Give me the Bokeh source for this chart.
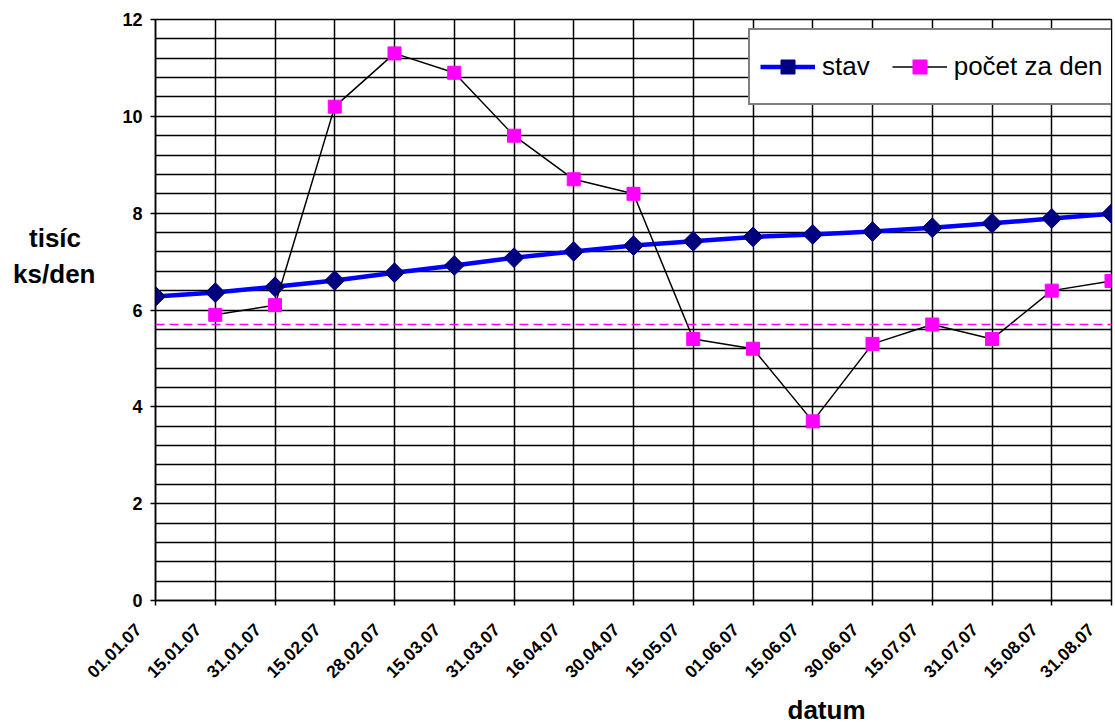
import numpy as np
from bokeh.plotting import figure
from bokeh.models import FixedTicker, Range1d, Legend, LegendItem, Span, Title
from bokeh.embed import file_html
from bokeh.resources import INLINE

dates = ["01.01.07", "15.01.07", "31.01.07", "15.02.07", "28.02.07", "15.03.07",
         "31.03.07", "16.04.07", "30.04.07", "15.05.07", "01.06.07", "15.06.07",
         "30.06.07", "15.07.07", "31.07.07", "15.08.07", "31.08.07"]
stav = [6.28, 6.36, 6.48, 6.61, 6.77, 6.92, 7.08, 7.21, 7.33, 7.42, 7.51, 7.56,
        7.62, 7.70, 7.79, 7.89, 7.99]
pocet = [np.nan, 5.9, 6.1, 10.2, 11.3, 10.9, 9.6, 8.7, 8.4, 5.4, 5.2, 3.7,
         5.3, 5.7, 5.4, 6.4, 6.6]
target = 5.7
y_ticks = [0, 2, 4, 6, 8, 10, 12]
y_grid = [round(i * 0.4, 1) for i in range(31)]

FONT = "Liberation Sans"
NB = "\u00a0"
x = list(range(len(dates)))

p = figure(width=1115, height=724, output_backend="svg", toolbar_location=None,
           x_range=Range1d(0, len(dates) - 1), y_range=Range1d(0, 12),
           min_border_left=155, min_border_right=4, min_border_top=19,
           min_border_bottom=123)
p.background_fill_color = "white"
p.border_fill_color = "white"
p.outline_line_color = "black"
p.outline_line_width = 1.5

# grids
p.xgrid.ticker = FixedTicker(ticks=x)
p.ygrid.ticker = FixedTicker(ticks=y_grid)
for g in (p.xgrid, p.ygrid):
    g.grid_line_color = "black"
    g.grid_line_width = 1.5
    g.grid_line_alpha = 1.0

# axes
p.xaxis.ticker = FixedTicker(ticks=x)
p.xaxis.major_label_overrides = {i: d + NB * 5 for i, d in enumerate(dates)}
p.xaxis.major_label_orientation = np.pi / 4
p.yaxis.ticker = FixedTicker(ticks=y_ticks)
for ax in (p.xaxis, p.yaxis):
    ax.axis_line_color = "black"
    ax.axis_line_width = 1.5
    ax.major_tick_line_color = "black"
    ax.major_tick_line_width = 1.5
    ax.major_tick_out = 5
    ax.major_tick_in = 0
    ax.minor_tick_line_color = None
    ax.major_label_text_font = FONT
    ax.major_label_text_font_style = "bold"
    ax.major_label_text_color = "black"
p.xaxis.major_label_text_font_size = "17.5px"
p.yaxis.major_label_text_font_size = "18px"
p.xaxis.major_label_standoff = 4
p.yaxis.major_label_standoff = 8

# y axis title (horizontal, two lines)
p.yaxis.axis_label = "tisíc" + NB * 2 + "\nks/den\n" + NB + "\n" + NB + "\n" + NB
p.yaxis.axis_label_orientation = "horizontal"
p.yaxis.axis_label_text_font = FONT
p.yaxis.axis_label_text_font_style = "bold"
p.yaxis.axis_label_text_font_size = "26px"
p.yaxis.axis_label_text_color = "black"
p.yaxis.axis_label_text_line_height = 1.2
p.yaxis.axis_label_standoff = 24

# x axis title
p.add_layout(Title(text="datum", align="left", offset=632, text_font=FONT,
                   text_font_style="bold", text_font_size="26px",
                   text_color="black", standoff=0), "below")

# target line
p.add_layout(Span(location=target, dimension="width", line_color="#FF00FF",
                  line_width=1.5, line_dash="9 5"))

# series
l1 = p.line(x, stav, line_color="#0000FF", line_width=4.5)
m1 = p.scatter(x, stav, marker="square", size=14, angle=np.pi / 4,
               fill_color="#000080", line_color="#000080")
l2 = p.line(x, pocet, line_color="black", line_width=1.5)
m2 = p.scatter(x, pocet, marker="square", size=13, fill_color="#FF00FF",
               line_color="#FF00FF")

legend = Legend(items=[LegendItem(label="stav", renderers=[l1, m1]),
                       LegendItem(label="počet za den", renderers=[l2, m2])],
                orientation="horizontal", location=(593, 495))
legend.label_text_font = FONT
legend.label_text_font_size = "26px"
legend.label_text_color = "black"
legend.glyph_width = 55
legend.glyph_height = 35
legend.label_height = 53
legend.label_standoff = 7
legend.spacing = 22
legend.padding = 10
legend.margin = 0
legend.border_line_color = "black"
legend.border_line_width = 2
legend.background_fill_color = "white"
legend.background_fill_alpha = 1.0
p.add_layout(legend, "center")

open("out.html", "w").write(file_html(p, INLINE))
